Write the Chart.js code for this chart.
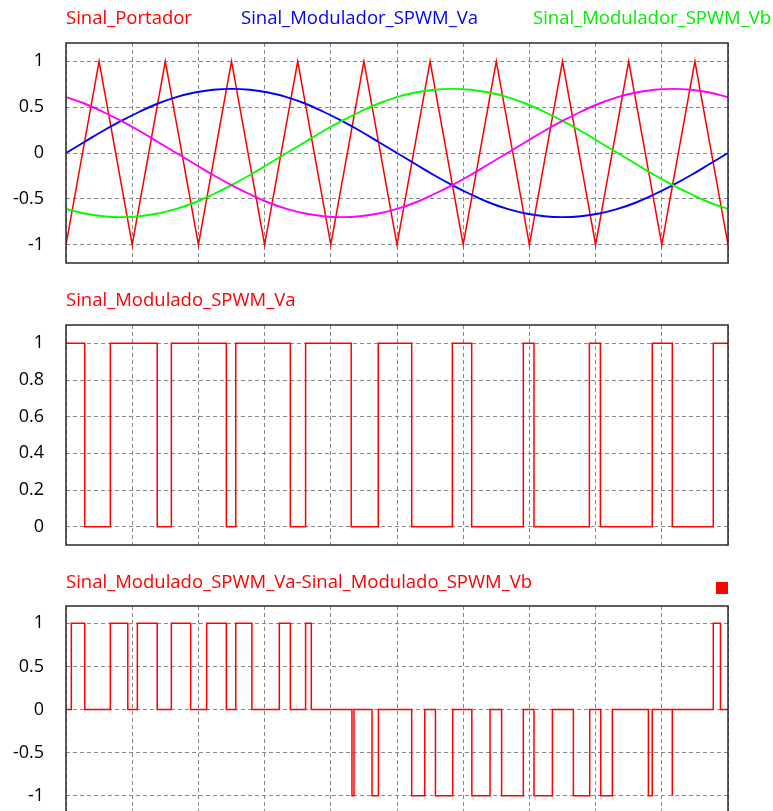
<!DOCTYPE html>
<html>
<head>
<meta charset="utf-8">
<script src="https://cdn.jsdelivr.net/npm/chart.js@4.4.1/dist/chart.umd.min.js"></script>
<style>
  html, body { margin: 0; padding: 0; background: #fff; overflow: hidden; }
  #page { position: relative; width: 773px; height: 811px; overflow: hidden; }
  canvas { position: absolute; left: 0; }
  .lbl { position: absolute; font: 18.5px 'Open Sans', sans-serif; line-height: 18px; white-space: nowrap; }
  #marker { position: absolute; left: 716px; top: 582px; width: 12px; height: 12px; background: #ff0000; }
</style>
</head>
<body>
<div id="page">
  <canvas id="c1" width="773" height="280" style="top:0"></canvas>
  <canvas id="c2" width="773" height="280" style="top:280px"></canvas>
  <canvas id="c3" width="773" height="260" style="top:560px"></canvas>
  <div id="marker"></div>
</div>
<script>
// angle of the fundamental (degrees) for the sampled references
const sampleDeg = [0, 10, 20, 30, 40, 50, 60, 70, 80, 90, 100, 110, 120, 130, 140, 150, 160, 170, 180,
  190, 200, 210, 220, 230, 240, 250, 260, 270, 280, 290, 300, 310, 320, 330, 340, 350, 360];

const modVa = [0, 0.12, 0.24, 0.35, 0.45, 0.54, 0.61, 0.66, 0.69, 0.70, 0.69, 0.66, 0.61, 0.54, 0.45, 0.35, 0.24, 0.12, 0,
  -0.12, -0.24, -0.35, -0.45, -0.54, -0.61, -0.66, -0.69, -0.70, -0.69, -0.66, -0.61, -0.54, -0.45, -0.35, -0.24, -0.12, 0];
const modVb = [-0.61, -0.66, -0.69, -0.70, -0.69, -0.66, -0.61, -0.54, -0.45, -0.35, -0.24, -0.12, 0, 0.12, 0.24, 0.35, 0.45, 0.54, 0.61,
  0.66, 0.69, 0.70, 0.69, 0.66, 0.61, 0.54, 0.45, 0.35, 0.24, 0.12, 0, -0.12, -0.24, -0.35, -0.45, -0.54, -0.61];
const modVc = [0.61, 0.54, 0.45, 0.35, 0.24, 0.12, 0, -0.12, -0.24, -0.35, -0.45, -0.54, -0.61, -0.66, -0.69, -0.70, -0.69, -0.66, -0.61,
  -0.54, -0.45, -0.35, -0.24, -0.12, 0, 0.12, 0.24, 0.35, 0.45, 0.54, 0.61, 0.66, 0.69, 0.70, 0.69, 0.66, 0.61];

// triangular carrier, corner points
const carrierDeg = [0, 18, 36, 54, 72, 90, 108, 126, 144, 162, 180, 198, 216, 234, 252, 270, 288, 306, 324, 342, 360];
const carrierLevel = [-1, 1, -1, 1, -1, 1, -1, 1, -1, 1, -1, 1, -1, 1, -1, 1, -1, 1, -1, 1, -1];

// switching instants (deg) and the level held after each one
const pwmVaDeg = [0, 10.2, 24.1, 49.6, 57.3, 87.2, 92.3, 122.0, 130.3, 155.1, 169.8, 188.0, 210.1,
  220.6, 248.7, 254.5, 284.6, 290.6, 318.8, 329.7, 352.0, 360];
const pwmVaLevel = [1, 0, 1, 0, 1, 0, 1, 0, 1, 0, 1, 0, 1, 0, 1, 0, 1, 0, 1, 0, 1, 1];

const lineVabDeg = [0, 2.9, 10.2, 24.1, 33.6, 38.8, 49.6, 57.3, 67.8, 76.5, 87.2, 92.3, 101.1, 116.0, 122.0,
  130.3, 133.4, 155.5, 156.6, 166.4, 169.9, 188.0, 195.1, 200.9, 210.3, 220.7, 230.6, 236.9, 248.7,
  254.5, 264.5, 275.9, 284.8, 290.8, 297.1, 316.7, 318.8, 329.7, 329.7, 352.0, 355.9, 360];
const lineVabLevel = [0, 1, 0, 1, 0, 1, 0, 1, 0, 1, 0, 1, 0, 1, 0,
  1, 0, -1, 0, -1, 0, -1, 0, -1, 0, -1, 0, -1, 0,
  -1, 0, -1, 0, -1, 0, -1, 0, -1, 0, 1, 0, 0];

const gridDeg = [0, 36, 72, 108, 144, 180, 216, 252, 288, 324, 360];
const ticksSymmetric = [-1, -0.5, 0, 0.5, 1];
const ticksUnipolar = [0, 0.2, 0.4, 0.6, 0.8, 1];

const titles = [
  { text: 'Sinal_Portador', left: 66, top: 8, color: '#ff0000' },
  { text: 'Sinal_Modulador_SPWM_Va', left: 241, top: 8, color: '#0000ff' },
  { text: 'Sinal_Modulador_SPWM_Vb', left: 533, top: 8, color: '#00ee00' },
  { text: 'Sinal_Modulado_SPWM_Va', left: 66, top: 290, color: '#ff0000' },
  { text: 'Sinal_Modulado_SPWM_Va-Sinal_Modulado_SPWM_Vb', left: 66, top: 572, color: '#ff0000' }
];

const page = document.getElementById('page');
titles.forEach(t => {
  const el = document.createElement('div');
  el.className = 'lbl';
  el.textContent = t.text;
  el.style.left = t.left + 'px';
  el.style.top = t.top + 'px';
  el.style.color = t.color;
  page.appendChild(el);
});

const toPoints = (xs, ys) => xs.map((x, i) => ({ x: x, y: ys[i] }));

// box around the plotting area
const framePlugin = {
  id: 'frame',
  afterDraw(chart) {
    const { ctx, chartArea: a } = chart;
    ctx.save();
    ctx.strokeStyle = '#2a2a2a';
    ctx.lineWidth = 1.5;
    ctx.strokeRect(a.left, a.top, a.right - a.left, a.bottom - a.top);
    ctx.restore();
  }
};

function panel(id, datasets, yMin, yMax, yTicks, padTop, padBottom) {
  return new Chart(document.getElementById(id), {
    type: 'line',
    data: { datasets: datasets },
    options: {
      responsive: false,
      animation: false,
      layout: { padding: { top: padTop, bottom: padBottom, left: 0, right: 45 } },
      plugins: { legend: { display: false }, tooltip: { enabled: false } },
      elements: { point: { radius: 0 } },
      scales: {
        x: {
          type: 'linear', min: 0, max: 360,
          afterBuildTicks(s) { s.ticks = gridDeg.map(v => ({ value: v })); },
          ticks: { display: false },
          grid: { color: '#888', drawTicks: false },
          border: { display: false, dash: [4, 3] },
          afterFit(s) { s.height = 0; }
        },
        y: {
          min: yMin, max: yMax,
          afterBuildTicks(s) { s.ticks = yTicks.map(v => ({ value: v })); },
          ticks: {
            color: '#000',
            font: { family: "'Open Sans', sans-serif", size: 18 },
            padding: 22,
            callback: v => String(v)
          },
          grid: { color: '#888', drawTicks: false },
          border: { display: false, dash: [4, 3] },
          afterFit(s) { s.width = 66; s.paddingTop = 0; s.paddingBottom = 0; }
        }
      }
    },
    plugins: [framePlugin]
  });
}

panel('c1', [
  { data: toPoints(sampleDeg, modVc), borderColor: '#ff00ff', borderWidth: 1.9, tension: 0.4, order: 1 },
  { data: toPoints(sampleDeg, modVb), borderColor: '#00ff00', borderWidth: 1.9, tension: 0.4, order: 2 },
  { data: toPoints(sampleDeg, modVa), borderColor: '#0000ff', borderWidth: 1.9, tension: 0.4, order: 3 },
  { data: toPoints(carrierDeg, carrierLevel), borderColor: '#ff0000', borderWidth: 1.5, order: 4 }
], -1.2, 1.2, ticksSymmetric, 43, 17);

panel('c2', [
  { data: toPoints(pwmVaDeg, pwmVaLevel), borderColor: '#ff0000', borderWidth: 1.5, stepped: true }
], -0.1, 1.1, ticksUnipolar, 45, 15);

panel('c3', [
  { data: toPoints(lineVabDeg, lineVabLevel), borderColor: '#ff0000', borderWidth: 1.5, stepped: true }
], -1.2, 1.2, ticksSymmetric, 46, 7);
</script>
</body>
</html>
